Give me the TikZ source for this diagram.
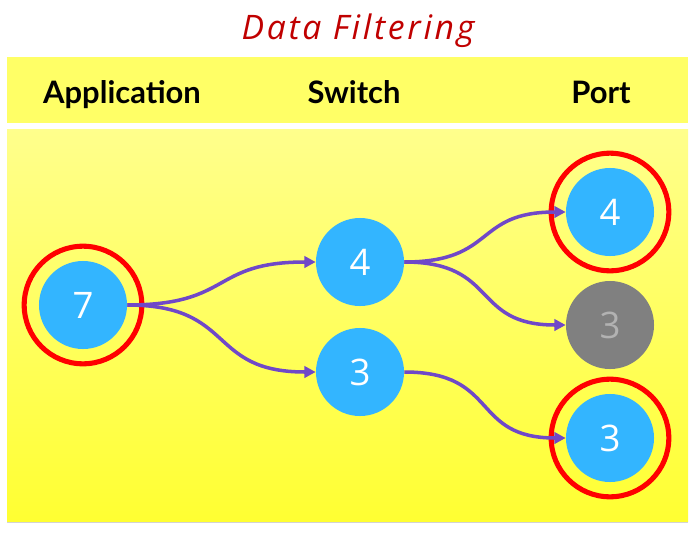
\documentclass[tikz,border=0pt]{standalone}
\usepackage{fontspec}
\setmainfont{Open Sans}
\newfontfamily\headfont{Lato}
\usetikzlibrary{arrows.meta,shadows}

\definecolor{dotblue}{RGB}{51,181,255}
\definecolor{dotgray}{RGB}{128,128,128}
\definecolor{flowline}{RGB}{112,72,200}
\definecolor{titlered}{RGB}{192,0,0}

\tikzset{
  dot/.style={circle, fill=dotblue, minimum size=2.2cm, inner sep=0pt,
    text=white, font=\fontsize{26}{26}\selectfont},
  deaddot/.style={dot, fill=dotgray, text=gray!60},
  head/.style={anchor=base, font=\headfont\bfseries\fontsize{22}{22}\selectfont},
  ring/.style={draw=red, line width=3.6pt},
  flow/.style={draw=flowline, line width=2.5pt, arrows={-Triangle[length=8pt,width=8pt]},
    out=0, in=180, looseness=1.4}
}

\begin{document}
\begin{tikzpicture}[x=0.025cm, y=-0.025cm]
\useasboundingbox (0,0) rectangle (697,533);

% title
\node[text=titlered, font=\fontsize{24}{24}\selectfont\itshape\addfontfeatures{LetterSpace=8}]
  at (358,31) (title) {Data Filtering};

% panel
\fill[white, drop shadow={opacity=0.35, shadow xshift=0pt, shadow yshift=-1.5pt}]
  (7,57) rectangle (688,521);
\fill[color={rgb,255:red,255;green,255;blue,102}] (7,57) rectangle (688,123);
\shade[top color={rgb,255:red,255;green,255;blue,140},
  bottom color={rgb,255:red,255;green,255;blue,50}] (7,129) rectangle (688,521);

\node[head] at (122,103) (happ) {Application};
\node[head] at (354,103) (hsw) {Switch};
\node[head] at (601,103) (hport) {Port};

% nodes
\node[dot] at (83,305) (app) {7};
\node[dot] at (360,262) (sw4) {4};
\node[dot] at (360,372) (sw3) {3};
\node[dot] at (610,212) (p4) {4};
\node[deaddot] at (610,325) (p3x) {3};
\node[dot] at (610,438) (p3) {3};

% delivered
\draw[ring] (app) circle (1.47cm);
\draw[ring] (p4) circle (1.47cm);
\draw[ring] (p3) circle (1.47cm);

% flows
\draw[flow] (app.east) to (sw4.west);
\draw[flow] (app.east) to (sw3.west);
\draw[flow] (sw4.east) to (p4.west);
\draw[flow] (sw4.east) to (p3x.west);
\draw[flow] (sw3.east) to (p3.west);
\end{tikzpicture}
\end{document}
